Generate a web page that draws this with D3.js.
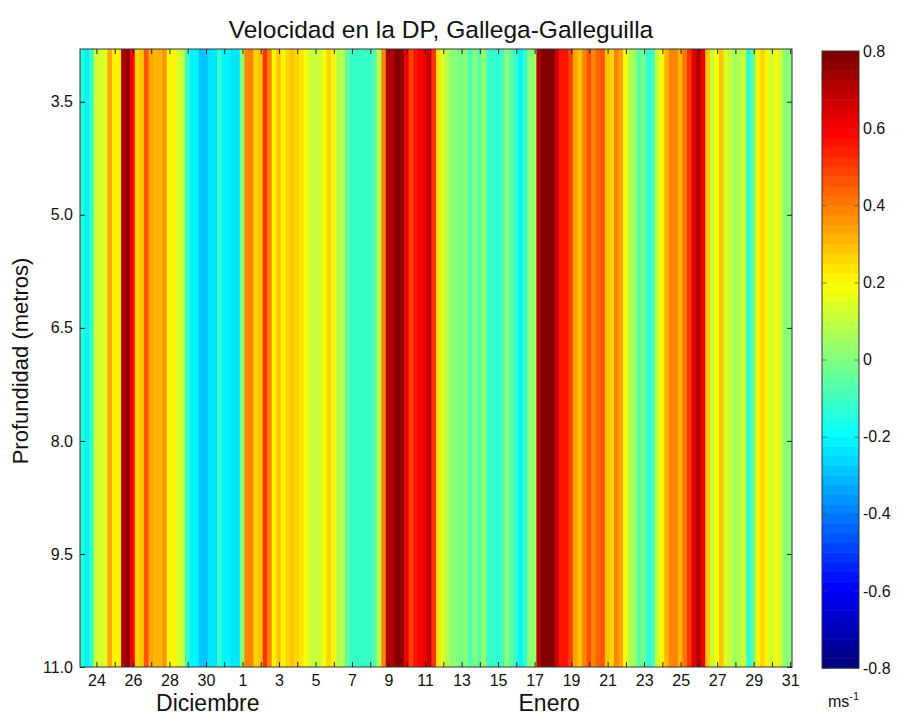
<!DOCTYPE html>
<html>
<head>
<meta charset="utf-8">
<script src="https://cdn.jsdelivr.net/npm/d3@7"></script>
<style>
  html, body { margin: 0; padding: 0; background: #fff; }
  svg { display: block; font-family: "Liberation Sans", Arial, sans-serif; }
</style>
</head>
<body>
<svg id="chart" width="897" height="715"></svg>
<script>
// Depth-averaged current speed (m/s), one value every 6 hours, starting at day 23.1 (Dec)
const startDay = 23.1;
const stepDays = 0.25;
const velocity = [
  -0.15, -0.2, -0.1, 0.1, 0.15, 0.15, 0.35, 0.2, 0.22, 0.7,
  0.75, 0.6, 0.25, 0.3, 0.45, 0.35, 0.32, 0.32, 0.36, 0.2,
  0.2, 0.15, 0.1, -0.1, -0.2, -0.2, -0.3, -0.3, -0.25, -0.25,
  -0.12, -0.2, -0.2, -0.25, -0.25, 0.0, 0.4, 0.38, 0.25, 0.3,
  0.5, 0.4, 0.2, 0.3, 0.2, 0.25, 0.3, 0.26, 0.24, 0.18,
  0.12, 0.1, 0.1, 0.18, 0.26, 0.2, 0.08, 0.08, -0.04, -0.1,
  -0.12, -0.12, -0.12, -0.12, -0.06, 0.08, 0.4, 0.7, 0.72, 0.78,
  0.76, 0.62, 0.48, 0.55, 0.6, 0.62, 0.68, 0.52, 0.24, 0.14,
  0.08, 0.02, 0.0, -0.02, 0.0, -0.08, 0.0, -0.06, 0.05, -0.1,
  -0.12, -0.15, -0.08, 0.0, -0.06, -0.12, -0.22, -0.12, 0.02, 0.05,
  0.7, 0.8, 0.8, 0.78, 0.66, 0.55, 0.55, 0.48, 0.35, 0.3,
  0.4, 0.46, 0.38, 0.44, 0.46, 0.3, 0.26, 0.4, 0.35, 0.18,
  0.08, 0.03, -0.06, -0.02, -0.15, -0.08, 0.1, 0.2, 0.32, 0.4,
  0.4, 0.32, 0.42, 0.5, 0.65, 0.7, 0.62, 0.3, 0.12, 0.18,
  0.3, 0.15, 0.1, 0.03, 0.08, 0.1, -0.15, -0.05, 0.2, 0.26,
  0.2, 0.12, 0.2, 0.12, 0.0, 0.0
];

// Axis settings
const depthDomain = [2.8, 11.0];
const depthTicks = [3.5, 5.0, 6.5, 8.0, 9.5, 11.0];
const dayTicks = d3.range(24, 63);           // one tick per day, Dec 24 .. Jan 31
const colorTicks = [0.8, 0.6, 0.4, 0.2, 0, -0.2, -0.4, -0.6, -0.8];
const colorDomain = [-0.8, 0.8];
const monthLabels = [
  { name: "Diciembre", day: 30.1 },
  { name: "Enero", day: 48.8 }
];

const svg = d3.select("#chart");
const plot = { left: 80, right: 792, top: 49, bottom: 667 };

const x = d3.scaleLinear()
  .domain([startDay, startDay + velocity.length * stepDays])
  .range([plot.left, plot.right]);
const y = d3.scaleLinear().domain(depthDomain).range([plot.top, plot.bottom]);

// MATLAB-like jet colormap with 64 levels
function jet(t) {
  const c = v => Math.max(0, Math.min(1, v));
  const r = c(1.5 - Math.abs(4 * t - 3));
  const g = c(1.5 - Math.abs(4 * t - 2));
  const b = c(1.5 - Math.abs(4 * t - 1));
  return d3.rgb(r * 255, g * 255, b * 255).formatHex();
}
const nLevels = 64;
const jetColors = d3.range(nLevels).map(i => jet(i / (nLevels - 1)));
const color = d3.scaleQuantize().domain(colorDomain).range(jetColors);

// Heatmap columns
svg.append("clipPath").attr("id", "plotclip")
  .append("rect")
  .attr("x", plot.left).attr("y", plot.top)
  .attr("width", plot.right - plot.left).attr("height", plot.bottom - plot.top);

svg.append("g").attr("clip-path", "url(#plotclip)")
  .selectAll("rect")
  .data(velocity)
  .join("rect")
  .attr("x", (d, i) => x(startDay + i * stepDays))
  .attr("width", (d, i) => x(startDay + (i + 1) * stepDays) - x(startDay + i * stepDays) + 0.6)
  .attr("y", y(depthDomain[0]))
  .attr("height", y(depthDomain[1]) - y(depthDomain[0]))
  .attr("fill", d => color(d));

// Axes with inward ticks on all four sides
const dayLabel = d => ((d - 24) % 2 === 0 ? String(d <= 31 ? d : d - 31) : "");
const tickLen = 5;
const plainNum = d => (d === 0 ? "0" : d.toFixed(1));   // ASCII hyphen for negatives

const bottomAxis = d3.axisBottom(x).tickValues(dayTicks).tickFormat(dayLabel)
  .tickSizeInner(-tickLen).tickSizeOuter(0).tickPadding(8);
const topAxis = d3.axisTop(x).tickValues(dayTicks).tickFormat("")
  .tickSizeInner(-tickLen).tickSizeOuter(0);
const leftAxis = d3.axisLeft(y).tickValues(depthTicks).tickFormat(plainNum)
  .tickSizeInner(-tickLen).tickSizeOuter(0).tickPadding(7);
const rightAxis = d3.axisRight(y).tickValues(depthTicks).tickFormat("")
  .tickSizeInner(-tickLen).tickSizeOuter(0);

function styleAxis(g) {
  g.select(".domain").remove();
  g.selectAll(".tick line").attr("stroke", "#222").attr("stroke-width", 1);
  g.selectAll(".tick text").attr("fill", "#111").style("font-size", "16px");
}

svg.append("g").attr("transform", `translate(0,${plot.bottom})`).call(bottomAxis).call(styleAxis);
svg.append("g").attr("transform", `translate(0,${plot.top})`).call(topAxis).call(styleAxis);
svg.append("g").attr("transform", `translate(${plot.left},0)`).call(leftAxis).call(styleAxis);
svg.append("g").attr("transform", `translate(${plot.right},0)`).call(rightAxis).call(styleAxis);

// Plot frame
svg.append("rect")
  .attr("x", plot.left).attr("y", plot.top)
  .attr("width", plot.right - plot.left).attr("height", plot.bottom - plot.top)
  .attr("fill", "none").attr("stroke", "#333").attr("stroke-width", 1);

// Title and axis labels
svg.append("text")
  .attr("x", 441).attr("y", 38)
  .attr("text-anchor", "middle").style("font-size", "24.5px").attr("fill", "#111")
  .text("Velocidad en la DP, Gallega-Galleguilla");

svg.append("text")
  .attr("transform", `translate(28,${(plot.top + plot.bottom) / 2 + 3}) rotate(-90)`)
  .attr("text-anchor", "middle").style("font-size", "22px").attr("fill", "#111")
  .text("Profundidad (metros)");

svg.append("g").selectAll("text")
  .data(monthLabels)
  .join("text")
  .attr("x", d => x(d.day)).attr("y", 711)
  .attr("text-anchor", "middle").style("font-size", "23px").attr("fill", "#111")
  .text(d => d.name);

// Colorbar
const cbar = { left: 822, right: 859, top: 51, bottom: 668 };
const cy = d3.scaleLinear().domain(colorDomain).range([cbar.bottom, cbar.top]);
const levelStep = (colorDomain[1] - colorDomain[0]) / nLevels;

svg.append("g").selectAll("rect")
  .data(jetColors)
  .join("rect")
  .attr("x", cbar.left)
  .attr("width", cbar.right - cbar.left)
  .attr("y", (d, i) => cy(colorDomain[0] + (i + 1) * levelStep))
  .attr("height", (d, i) => cy(colorDomain[0] + i * levelStep) - cy(colorDomain[0] + (i + 1) * levelStep) + 0.5)
  .attr("fill", d => d);

const cbarAxis = d3.axisRight(cy).tickValues(colorTicks).tickFormat(plainNum)
  .tickSizeInner(-tickLen).tickSizeOuter(0).tickPadding(4);
const cbarAxisLeft = d3.axisLeft(cy).tickValues(colorTicks).tickFormat("")
  .tickSizeInner(-tickLen).tickSizeOuter(0);
svg.append("g").attr("transform", `translate(${cbar.right},0)`).call(cbarAxis).call(styleAxis)
  .selectAll(".tick line").attr("stroke", "#444").attr("stroke-opacity", 0.6);
svg.append("g").attr("transform", `translate(${cbar.left},0)`).call(cbarAxisLeft).call(styleAxis)
  .selectAll(".tick line").attr("stroke", "#444").attr("stroke-opacity", 0.6);

svg.append("rect")
  .attr("x", cbar.left).attr("y", cbar.top)
  .attr("width", cbar.right - cbar.left).attr("height", cbar.bottom - cbar.top)
  .attr("fill", "none").attr("stroke", "#333").attr("stroke-width", 1);

const unit = svg.append("text")
  .attr("x", 828).attr("y", 707).style("font-size", "16px").attr("fill", "#111");
unit.append("tspan").text("ms");
unit.append("tspan").attr("dy", -7).style("font-size", "11px").text("-1");
</script>
</body>
</html>
